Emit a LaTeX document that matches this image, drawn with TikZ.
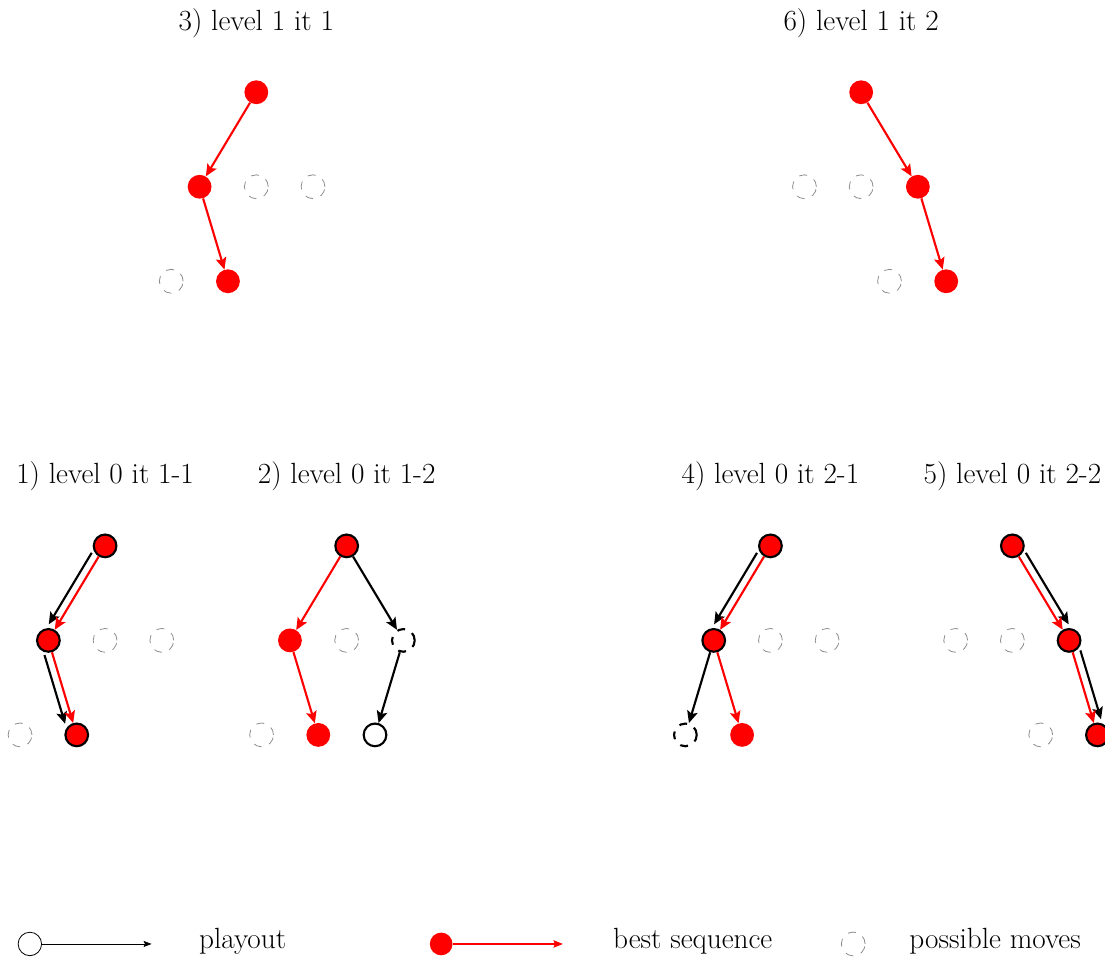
\documentclass[tikz,border=0pt]{standalone}
\usepackage{tikz}
\usetikzlibrary{arrows.meta,positioning,calc}

\tikzset{
  move/.style={circle, draw=black!45, line width=0.6pt, dash pattern=on 6pt off 6pt,
    minimum size=0.63cm, inner sep=0pt},
  best/.style={circle, fill=red, minimum size=0.63cm, inner sep=0pt},
  bestplay/.style={best, draw=black, line width=1.6pt, minimum size=0.6cm},
  play/.style={circle, draw=black, fill=white, line width=1.6pt, minimum size=0.6cm, inner sep=0pt},
  playdash/.style={play, dash pattern=on 6pt off 6pt},
  bestarrow/.style={->, red, line width=1.6pt},
  playarrow/.style={->, black, line width=1.6pt},
  legplay/.style={circle, draw=black, line width=0.6pt, minimum size=0.62cm, inner sep=0pt},
  legbest/.style={circle, fill=red, minimum size=0.6cm, inner sep=0pt},
  legtext/.style={anchor=base west, inner sep=0pt},
}

\begin{document}
\begin{tikzpicture}[>={Stealth[length=9pt,width=8pt,inset=1.8pt]}, on grid,
    font=\fontsize{22}{26}\selectfont]
  \useasboundingbox (0,0) rectangle (29.23,-25.40);

  % roots
  \node[best] (t3r) at (6.78,-2.44) {};
  \node[best, right=16cm of t3r] (t6r) {};
  \node[bestplay, below left=12cm and 4cm of t3r] (t1r) {};
  \node[bestplay, below right=12cm and 2.39cm of t3r] (t2r) {};
  \node[bestplay, below left=12cm and 2.4cm of t6r] (t4r) {};
  \node[bestplay, below right=12cm and 4cm of t6r] (t5r) {};

  % titles
  \node[above=1.64cm of t3r, anchor=base] (t3t) {3) level 1 it 1};
  \node[above=1.64cm of t6r, anchor=base] (t6t) {6) level 1 it 2};
  \node[above=1.64cm of t1r, anchor=base] (t1t) {1) level 0 it 1-1};
  \node[above=1.64cm of t2r, anchor=base] (t2t) {2) level 0 it 1-2};
  \node[above=1.64cm of t4r, anchor=base] (t4t) {4) level 0 it 2-1};
  \node[above=1.64cm of t5r, anchor=base] (t5t) {5) level 0 it 2-2};

  % 3) level 1 it 1
  \node[best, below left=2.5cm and 1.5cm of t3r] (t3a) {};
  \node[move, below=2.5cm of t3r] (t3b) {};
  \node[move, below right=2.5cm and 1.5cm of t3r] (t3c) {};
  \node[move, below left=2.5cm and 0.75cm of t3a] (t3d) {};
  \node[best, below right=2.5cm and 0.75cm of t3a] (t3e) {};
  \path (t3r) edge[bestarrow] (t3a)
        (t3a) edge[bestarrow] (t3e);

  % 6) level 1 it 2
  \node[move, below left=2.5cm and 1.5cm of t6r] (t6a) {};
  \node[move, below=2.5cm of t6r] (t6b) {};
  \node[best, below right=2.5cm and 1.5cm of t6r] (t6c) {};
  \node[move, below left=2.5cm and 0.75cm of t6c] (t6d) {};
  \node[best, below right=2.5cm and 0.75cm of t6c] (t6e) {};
  \path (t6r) edge[bestarrow] (t6c)
        (t6c) edge[bestarrow] (t6e);

  % 1) level 0 it 1-1
  \node[bestplay, below left=2.5cm and 1.5cm of t1r] (t1a) {};
  \node[move, below=2.5cm of t1r] (t1b) {};
  \node[move, below right=2.5cm and 1.5cm of t1r] (t1c) {};
  \node[move, below left=2.5cm and 0.75cm of t1a] (t1d) {};
  \node[bestplay, below right=2.5cm and 0.75cm of t1a] (t1e) {};
  \draw[playarrow, shorten <=0.34cm, shorten >=0.37cm]
    ($(t1r.center)!0.21cm!-90:(t1a.center)$) -- ($(t1a.center)!0.21cm!90:(t1r.center)$);
  \draw[playarrow, shorten <=0.34cm, shorten >=0.37cm]
    ($(t1a.center)!0.21cm!-90:(t1e.center)$) -- ($(t1e.center)!0.21cm!90:(t1a.center)$);
  \path (t1r) edge[bestarrow] (t1a)
        (t1a) edge[bestarrow] (t1e);

  % 2) level 0 it 1-2
  \node[best, below left=2.5cm and 1.5cm of t2r] (t2a) {};
  \node[move, below=2.5cm of t2r] (t2b) {};
  \node[playdash, below right=2.5cm and 1.5cm of t2r] (t2c) {};
  \node[move, below left=2.5cm and 0.75cm of t2a] (t2d) {};
  \node[best, below right=2.5cm and 0.75cm of t2a] (t2e) {};
  \node[play, below left=2.5cm and 0.75cm of t2c] (t2f) {};
  \path (t2r) edge[bestarrow] (t2a)
        (t2a) edge[bestarrow] (t2e)
        (t2r) edge[playarrow] (t2c)
        (t2c) edge[playarrow] (t2f);

  % 4) level 0 it 2-1
  \node[bestplay, below left=2.5cm and 1.5cm of t4r] (t4a) {};
  \node[move, below=2.5cm of t4r] (t4b) {};
  \node[move, below right=2.5cm and 1.5cm of t4r] (t4c) {};
  \node[playdash, below left=2.5cm and 0.75cm of t4a] (t4d) {};
  \node[best, below right=2.5cm and 0.75cm of t4a] (t4e) {};
  \draw[playarrow, shorten <=0.34cm, shorten >=0.37cm]
    ($(t4r.center)!0.21cm!-90:(t4a.center)$) -- ($(t4a.center)!0.21cm!90:(t4r.center)$);
  \path (t4r) edge[bestarrow] (t4a)
        (t4a) edge[playarrow] (t4d)
        (t4a) edge[bestarrow] (t4e);

  % 5) level 0 it 2-2
  \node[move, below left=2.5cm and 1.5cm of t5r] (t5a) {};
  \node[move, below=2.5cm of t5r] (t5b) {};
  \node[bestplay, below right=2.5cm and 1.5cm of t5r] (t5c) {};
  \node[move, below left=2.5cm and 0.75cm of t5c] (t5d) {};
  \node[bestplay, below right=2.5cm and 0.75cm of t5c] (t5e) {};
  \draw[playarrow, shorten <=0.34cm, shorten >=0.37cm]
    ($(t5r.center)!0.21cm!90:(t5c.center)$) -- ($(t5c.center)!0.21cm!-90:(t5r.center)$);
  \draw[playarrow, shorten <=0.34cm, shorten >=0.37cm]
    ($(t5c.center)!0.21cm!90:(t5e.center)$) -- ($(t5e.center)!0.21cm!-90:(t5c.center)$);
  \path (t5r) edge[bestarrow] (t5c)
        (t5c) edge[bestarrow] (t5e);

  % legend
  \node[legplay] (lp) at (0.79,-24.97) {};
  \coordinate (lpe) at (4.01,-24.97);
  \draw[-{Stealth[length=6pt,width=4.5pt,inset=1pt]}, line width=0.6pt] (lp) -- (lpe);
  \node[legtext] (lpt) at (5.26,-25.08) {playout};
  \node[legbest] (lb) at (11.67,-24.97) {};
  \coordinate (lbe) at (14.89,-24.97);
  \draw[-{Stealth[length=7pt,width=5.5pt,inset=1pt]}, red, line width=1.2pt] (lb) -- (lbe);
  \node[legtext] (lbt) at (16.21,-25.08) {best sequence};
  \node[move] (lm) at (22.57,-24.97) {};
  \node[legtext] (lmt) at (24.05,-25.08) {possible moves};
\end{tikzpicture}
\end{document}
